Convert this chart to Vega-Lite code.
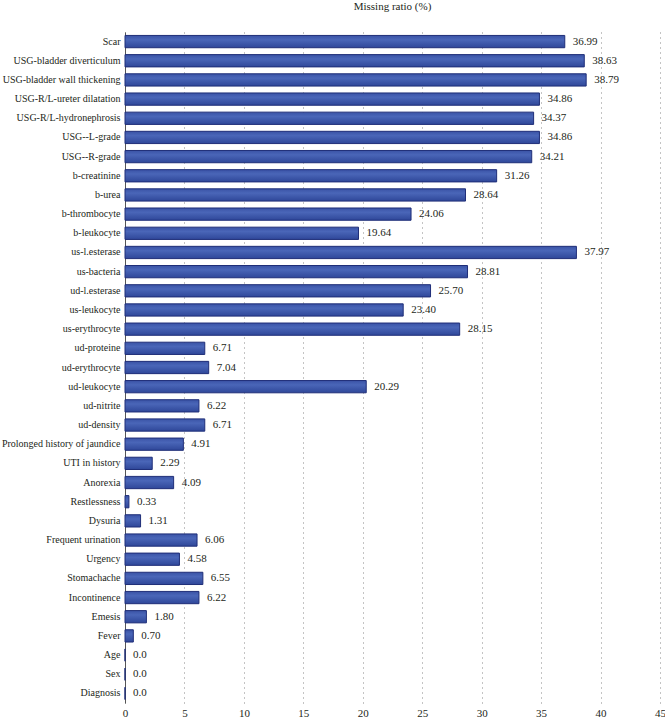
{
  "$schema": "https://vega.github.io/schema/vega-lite/v6.json",
  "width": 535,
  "height": 671,
  "autosize": {"type": "none"},
  "padding": {"left": 125, "top": 32, "right": 5, "bottom": 15},
  "background": "white",
  "title": {"text": "Missing ratio (%)", "font": "Liberation Serif, Times New Roman, serif", "fontSize": 11, "fontWeight": "normal", "color": "#231f20", "anchor": "middle", "offset": 20},
  "config": {"view": {"stroke": null}, "font": "Liberation Serif, Times New Roman, serif"},
  "data": {"values": [
    {"feature": "Scar", "ratio": 36.99, "label": "36.99"},
    {"feature": "USG-bladder diverticulum", "ratio": 38.63, "label": "38.63"},
    {"feature": "USG-bladder wall thickening", "ratio": 38.79, "label": "38.79"},
    {"feature": "USG-R/L-ureter dilatation", "ratio": 34.86, "label": "34.86"},
    {"feature": "USG-R/L-hydronephrosis", "ratio": 34.37, "label": "34.37"},
    {"feature": "USG--L-grade", "ratio": 34.86, "label": "34.86"},
    {"feature": "USG--R-grade", "ratio": 34.21, "label": "34.21"},
    {"feature": "b-creatinine", "ratio": 31.26, "label": "31.26"},
    {"feature": "b-urea", "ratio": 28.64, "label": "28.64"},
    {"feature": "b-thrombocyte", "ratio": 24.06, "label": "24.06"},
    {"feature": "b-leukocyte", "ratio": 19.64, "label": "19.64"},
    {"feature": "us-l.esterase", "ratio": 37.97, "label": "37.97"},
    {"feature": "us-bacteria", "ratio": 28.81, "label": "28.81"},
    {"feature": "ud-l.esterase", "ratio": 25.70, "label": "25.70"},
    {"feature": "us-leukocyte", "ratio": 23.40, "label": "23.40"},
    {"feature": "us-erythrocyte", "ratio": 28.15, "label": "28.15"},
    {"feature": "ud-proteine", "ratio": 6.71, "label": "6.71"},
    {"feature": "ud-erythrocyte", "ratio": 7.04, "label": "7.04"},
    {"feature": "ud-leukocyte", "ratio": 20.29, "label": "20.29"},
    {"feature": "ud-nitrite", "ratio": 6.22, "label": "6.22"},
    {"feature": "ud-density", "ratio": 6.71, "label": "6.71"},
    {"feature": "Prolonged history of jaundice", "ratio": 4.91, "label": "4.91"},
    {"feature": "UTI in history", "ratio": 2.29, "label": "2.29"},
    {"feature": "Anorexia", "ratio": 4.09, "label": "4.09"},
    {"feature": "Restlessness", "ratio": 0.33, "label": "0.33"},
    {"feature": "Dysuria", "ratio": 1.31, "label": "1.31"},
    {"feature": "Frequent urination", "ratio": 6.06, "label": "6.06"},
    {"feature": "Urgency", "ratio": 4.58, "label": "4.58"},
    {"feature": "Stomachache", "ratio": 6.55, "label": "6.55"},
    {"feature": "Incontinence", "ratio": 6.22, "label": "6.22"},
    {"feature": "Emesis", "ratio": 1.80, "label": "1.80"},
    {"feature": "Fever", "ratio": 0.70, "label": "0.70"},
    {"feature": "Age", "ratio": 0, "label": "0.0"},
    {"feature": "Sex", "ratio": 0, "label": "0.0"},
    {"feature": "Diagnosis", "ratio": 0, "label": "0.0"}
  ]},
  "encoding": {
    "y": {"field": "feature", "type": "nominal", "sort": null,
      "scale": {"paddingInner": 0.36, "paddingOuter": 0.18},
      "axis": {"title": null, "ticks": false, "domainColor": "#555555", "domainWidth": 1, "labelFontSize": 10, "labelColor": "#231f20", "labelPadding": 5, "labelLimit": 200, "labelFont": "Liberation Serif, Times New Roman, serif"}},
    "x": {"field": "ratio", "type": "quantitative",
      "scale": {"domain": [0, 45], "nice": false},
      "axis": {"title": null, "values": [0,5,10,15,20,25,30,35,40,45], "domain": false, "ticks": false, "grid": true, "gridDash": [1, 4], "gridColor": "#888888", "gridWidth": 1, "labelFontSize": 11, "labelColor": "#231f20", "labelPadding": 4, "labelFont": "Liberation Serif, Times New Roman, serif", "labelFlush": false}}
  },
  "layer": [
    {"mark": {"type": "bar", "stroke": "#1f2e78", "strokeWidth": 1,
      "color": {"gradient": "linear", "x1": 0, "y1": 0, "x2": 0, "y2": 1, "stops": [{"offset": 0, "color": "#3a53a6"}, {"offset": 0.35, "color": "#4a66b8"}, {"offset": 1, "color": "#2f4799"}]}}},
    {"mark": {"type": "text", "align": "left", "dx": 8, "fontSize": 11, "color": "#231f20", "font": "Liberation Serif, Times New Roman, serif"},
      "encoding": {"text": {"field": "label"}}}
  ]
}
